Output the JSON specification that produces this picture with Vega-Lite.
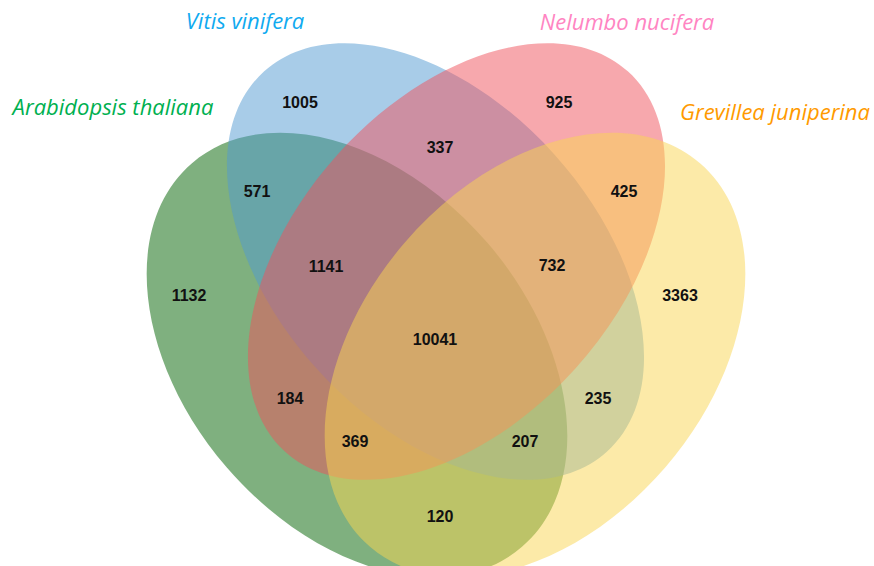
{
  "$schema": "https://vega.github.io/schema/vega-lite/v6.json",
  "width": 874,
  "height": 566,
  "autosize": {"type": "none"},
  "padding": 0,
  "background": "white",
  "view": {"stroke": null},
  "config": {"axis": {"disable": true}},
  "datasets": {
    "sets": [
      {"set": "Arabidopsis thaliana", "cx": 357, "cy": 355},
      {"set": "Vitis vinifera", "cx": 435.5, "cy": 261.5},
      {"set": "Nelumbo nucifera", "cx": 456.5, "cy": 261.5},
      {"set": "Grevillea juniperina", "cx": 535, "cy": 355}
    ],
    "regions": [
      {"count": "1005", "x": 300, "y": 103},
      {"count": "925", "x": 559, "y": 103},
      {"count": "337", "x": 440, "y": 148},
      {"count": "571", "x": 257, "y": 192},
      {"count": "425", "x": 624, "y": 192},
      {"count": "1141", "x": 326, "y": 267},
      {"count": "732", "x": 552, "y": 266},
      {"count": "1132", "x": 189, "y": 296},
      {"count": "3363", "x": 680, "y": 296},
      {"count": "10041", "x": 435, "y": 340},
      {"count": "184", "x": 290, "y": 399},
      {"count": "235", "x": 598, "y": 399},
      {"count": "369", "x": 355, "y": 442},
      {"count": "207", "x": 525, "y": 442},
      {"count": "120", "x": 440, "y": 517}
    ],
    "labels": [
      {"set": "Vitis vinifera", "x": 245, "y": 22},
      {"set": "Nelumbo nucifera", "x": 627, "y": 23},
      {"set": "Arabidopsis thaliana", "x": 113, "y": 108},
      {"set": "Grevillea juniperina", "x": 775, "y": 113}
    ]
  },
  "layer": [
    {
      "data": {"name": "sets"},
      "mark": {"type": "point", "filled": true, "size": 4, "opacity": 0.5, "strokeWidth": 0},
      "encoding": {
        "x": {"field": "cx", "type": "quantitative", "scale": {"domain": [0, 874], "nice": false, "zero": false}},
        "y": {"field": "cy", "type": "quantitative", "scale": {"domain": [0, 566], "nice": false, "zero": false, "reverse": true}},
        "fill": {
          "field": "set", "type": "nominal", "legend": null,
          "scale": {
            "domain": ["Arabidopsis thaliana", "Vitis vinifera", "Nelumbo nucifera", "Grevillea juniperina"],
            "range": ["#006100", "#5199d1", "#ef515b", "#f9d551"]
          }
        },
        "shape": {
          "field": "set", "type": "nominal", "legend": null,
          "scale": {
            "domain": ["Arabidopsis thaliana", "Vitis vinifera", "Nelumbo nucifera", "Grevillea juniperina"],
            "range": [
              "M 165 191.8 A 253 172 49.3 0 1 -130.4 112.2 A 253 172 49.3 0 1 -165 -191.8 A 253 172 49.3 0 1 130.4 -112.2 A 253 172 49.3 0 1 165 191.8 Z",
              "M 171.3 190.2 A 256 160 48 0 1 -118.9 107.1 A 256 160 48 0 1 -171.3 -190.2 A 256 160 48 0 1 118.9 -107.1 A 256 160 48 0 1 171.3 190.2 Z",
              "M 171.3 -190.2 A 256 160 -48 0 1 118.9 107.1 A 256 160 -48 0 1 -171.3 190.2 A 256 160 -48 0 1 -118.9 -107.1 A 256 160 -48 0 1 171.3 -190.2 Z",
              "M 165 -191.8 A 253 172 -49.3 0 1 130.4 112.2 A 253 172 -49.3 0 1 -165 191.8 A 253 172 -49.3 0 1 -130.4 -112.2 A 253 172 -49.3 0 1 165 -191.8 Z"
            ]
          }
        }
      }
    },
    {
      "data": {"name": "regions"},
      "mark": {"type": "text", "font": "Liberation Sans", "fontWeight": "bold", "fontSize": 16, "color": "#111111", "align": "center", "baseline": "middle"},
      "encoding": {
        "x": {"field": "x", "type": "quantitative"},
        "y": {"field": "y", "type": "quantitative"},
        "text": {"field": "count", "type": "nominal"}
      }
    },
    {
      "data": {"name": "labels"},
      "mark": {"type": "text", "font": "Open Sans", "fontStyle": "italic", "fontSize": 22, "align": "center", "baseline": "middle"},
      "encoding": {
        "x": {"field": "x", "type": "quantitative"},
        "y": {"field": "y", "type": "quantitative"},
        "text": {"field": "set", "type": "nominal"},
        "color": {
          "field": "set", "type": "nominal", "legend": null,
          "scale": {
            "domain": ["Arabidopsis thaliana", "Vitis vinifera", "Nelumbo nucifera", "Grevillea juniperina"],
            "range": ["#00b050", "#10aaf0", "#ff85c2", "#ff9a00"]
          }
        }
      }
    }
  ]
}
